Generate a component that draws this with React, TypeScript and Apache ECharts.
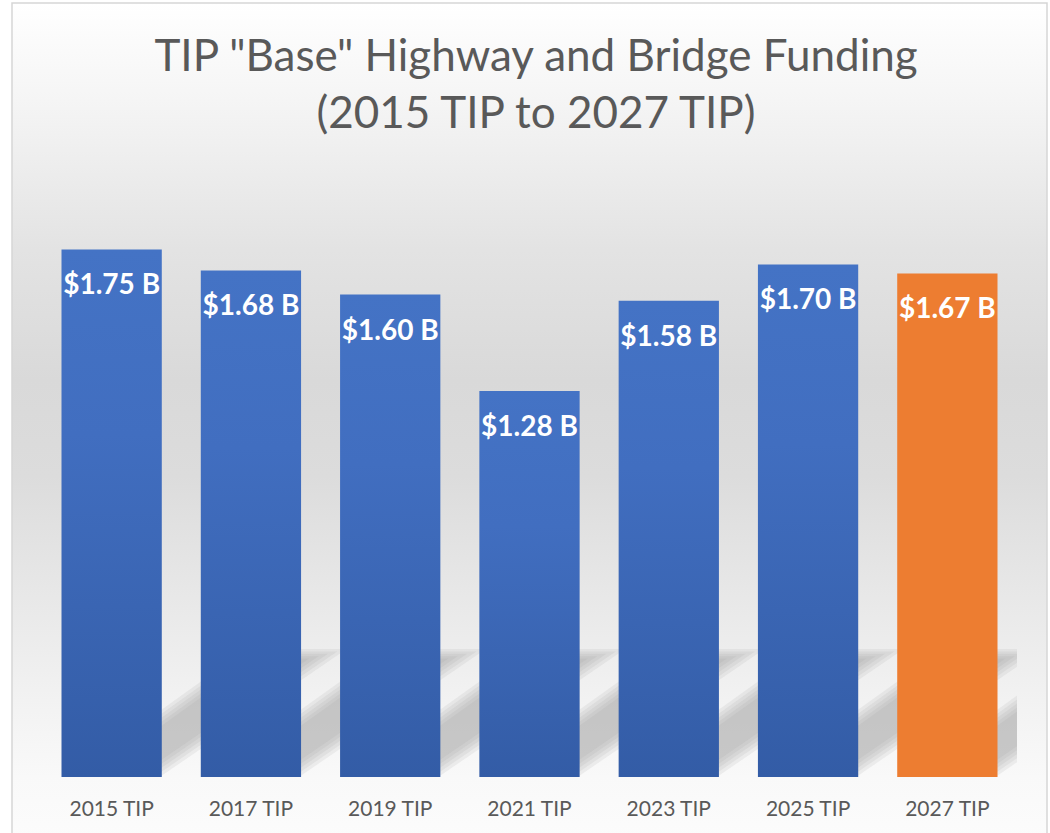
import React, { useEffect, useRef } from "react";
import * as echarts from "echarts";

const categories = ["2015 TIP", "2017 TIP", "2019 TIP", "2021 TIP", "2023 TIP", "2025 TIP", "2027 TIP"];
const fundingBillions = [1.75, 1.68, 1.6, 1.28, 1.58, 1.7, 1.67];
const highlightIndex = 6;
const titleText = 'TIP "Base" Highway and Bridge Funding\n(2015 TIP to 2027 TIP)';

const FONT = "Lato";

function clipPoly(pts: number[][], inside: (p: number[]) => boolean, inter: (a: number[], b: number[]) => number[]) {
  const out: number[][] = [];
  for (let i = 0; i < pts.length; i++) {
    const cur = pts[i];
    const prev = pts[(i + pts.length - 1) % pts.length];
    const ci = inside(cur);
    const pi = inside(prev);
    if (ci) {
      if (!pi) out.push(inter(prev, cur));
      out.push(cur);
    } else if (pi) {
      out.push(inter(prev, cur));
    }
  }
  return out;
}

export default function App() {
  const ref = useRef<HTMLDivElement>(null);
  useEffect(() => {
    if (!ref.current) return;
    const chart = echarts.init(ref.current, null, { renderer: "svg" });
    const blueGrad = new echarts.graphic.LinearGradient(0, 0, 0, 1, [
      { offset: 0, color: "#4473c5" },
      { offset: 0.35, color: "#416ec0" },
      { offset: 1, color: "#335ca6" },
    ]);
    const bg = new echarts.graphic.LinearGradient(0, 0, 0, 1, [
      { offset: 0, color: "#ffffff" },
      { offset: 0.115, color: "#f5f5f5" },
      { offset: 0.292, color: "#e3e3e3" },
      { offset: 0.446, color: "#d9d9d9" },
      { offset: 0.56, color: "#dcdcdc" },
      { offset: 0.74, color: "#ebebeb" },
      { offset: 0.825, color: "#f2f2f2" },
      { offset: 0.916, color: "#f9f9f9" },
      { offset: 1, color: "#fcfcfc" },
    ]);
    const option: any = {
      animation: false,
      backgroundColor: "#ffffff",
      graphic: [
        {
          type: "rect",
          z: -10,
          silent: true,
          shape: { x: 12, y: 3, width: 1035, height: 845 },
          style: { fill: bg, stroke: "#d6d6d6", lineWidth: 1.5 },
        },
      ],
      title: {
        text: titleText,
        left: 531,
        textAlign: "center",
        top: 20,
        textStyle: {
          fontFamily: FONT,
          fontSize: 44,
          fontWeight: "normal",
          color: "#595959",
          lineHeight: 57,
        },
      },
      grid: { left: 42, right: 33, top: 174, bottom: 56 },
      xAxis: {
        type: "category",
        data: categories,
        axisLine: { show: false },
        axisTick: { show: false },
        axisLabel: { color: "#595959", fontSize: 21, fontFamily: FONT, margin: 20 },
      },
      yAxis: { type: "value", min: 0, max: 2, show: false, splitLine: { show: false } },
      series: [
        {
          type: "custom",
          z: 1,
          silent: true,
          data: fundingBillions.map((v, i) => [i, v]),
          encode: { x: 0, y: 1 },
          renderItem: (params: any, api: any) => {
            const idx = api.value(0);
            const c = api.coord([idx, 0]);
            const band = api.size([1, 0])[0];
            const barW = band * 0.72;
            const xr = c[0] + barW / 2;
            const yb = c[1];
            const cs = params.coordSys;
            const xmax = cs.x + cs.width;
            const L = 320;
            const K = 66;
            const layers = [0, 4, 8, 12, 16];
            const children = layers.map((s) => {
              const ymin = yb - 128 + s * 0.6;
              let pts = [
                [xr - 2, yb - s],
                [xr + L, yb - s - L / 1.45],
                [xr + L, yb - K + s - L * 0.72],
                [xr - 2, yb - K + s],
              ];
              pts = clipPoly(pts, (p) => p[0] <= xmax, (a, b) => {
                const t = (xmax - a[0]) / (b[0] - a[0]);
                return [xmax, a[1] + t * (b[1] - a[1])];
              });
              pts = clipPoly(pts, (p) => p[1] >= ymin, (a, b) => {
                const t = (ymin - a[1]) / (b[1] - a[1]);
                return [a[0] + t * (b[0] - a[0]), ymin];
              });
              return {
                type: "polygon",
                shape: { points: pts },
                style: { fill: "rgba(150,150,150,0.12)" },
              };
            });
            return { type: "group", children };
          },
        },
        {
          type: "bar",
          z: 2,
          barCategoryGap: "28%",
          data: fundingBillions.map((v, i) => ({
            value: v,
            itemStyle: { color: i === highlightIndex ? "#ed7d31" : blueGrad },
          })),
          label: {
            show: true,
            position: "insideTop",
            distance: 20,
            color: "#ffffff",
            fontFamily: FONT,
            fontWeight: "bold",
            fontSize: 28,
            formatter: (p: any) => `$${Number(p.value).toFixed(2)} B`,
          },
        },
      ],
    };
    chart.setOption(option);
    return () => chart.dispose();
  }, []);
  return (
    <div
      ref={ref}
      style={{ position: "absolute", left: 0, top: 0, width: 1050, height: 833 }}
    />
  );
}
